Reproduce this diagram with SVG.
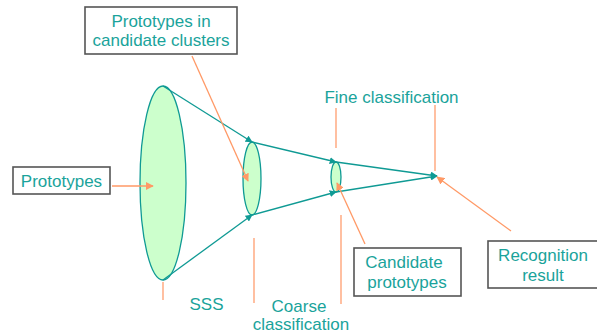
<svg xmlns="http://www.w3.org/2000/svg" width="597" height="336" viewBox="0 0 597 336">
<defs>
<marker id="ta" viewBox="0 0 10 10" refX="9" refY="5" markerWidth="7" markerHeight="7" markerUnits="userSpaceOnUse" orient="auto"><path d="M0,0 L10,5 L0,10 z" fill="#0F9A94"/></marker>
<marker id="oa" viewBox="0 0 10 10" refX="9" refY="5" markerWidth="8" markerHeight="8" markerUnits="userSpaceOnUse" orient="auto"><path d="M0,0 L10,5 L0,10 z" fill="#FF9966"/></marker>
</defs>
<style>
.t{font-family:"Liberation Sans",Arial,sans-serif;font-size:17px;fill:#1AA39B;text-anchor:middle}
.box{fill:#fff;stroke:#555;stroke-width:1.6}
.ell{fill:#CCFFCC;stroke:#0F9A94;stroke-width:1.3}
.c{stroke:#0F9A94;stroke-width:1.3;fill:none;marker-end:url(#ta)}
.o{stroke:#FF9966;stroke-width:1.3;fill:none;marker-end:url(#oa)}
.v{stroke:#FFB08A;stroke-width:1.6;fill:none}
</style>
<rect width="597" height="336" fill="#fff"/>
<g id="sss-ellipse"><ellipse class="ell" cx="163" cy="183" rx="23" ry="97"/></g>
<g id="coarse-ellipse"><ellipse class="ell" cx="252" cy="178.5" rx="9" ry="36.5"/></g>
<g id="fine-ellipse"><ellipse class="ell" cx="336" cy="177" rx="5" ry="15"/></g>
<g id="connectors">
<line class="c" x1="163" y1="86" x2="252" y2="142"/>
<line class="c" x1="163" y1="280" x2="252" y2="215"/>
<line class="c" x1="252" y1="142" x2="336" y2="162"/>
<line class="c" x1="252" y1="215" x2="336" y2="192"/>
<line class="c" x1="336" y1="162" x2="437" y2="176"/>
<line class="c" x1="336" y1="192" x2="437" y2="176"/>
<line class="o" x1="112" y1="186" x2="153" y2="186"/>
<line class="o" x1="192" y1="56" x2="248" y2="181"/>
<line class="o" x1="365" y1="244" x2="337" y2="183"/>
<line class="o" x1="511" y1="231" x2="437" y2="177"/>
<line class="v" x1="163" y1="282" x2="163" y2="300"/>
<line class="v" x1="254" y1="238" x2="254" y2="303"/>
<line class="v" x1="341" y1="215" x2="341" y2="304"/>
<line class="v" x1="336" y1="108" x2="336" y2="148"/>
<line class="v" x1="435" y1="105" x2="435" y2="171"/>
</g>
<g id="clusters-label"><rect class="box" x="85" y="7" width="152" height="47"/><text class="t" x="161" y="27">Prototypes in</text><text class="t" x="161" y="46">candidate clusters</text></g>
<g id="prototypes-label"><rect class="box" x="13" y="167" width="97" height="27"/><text class="t" x="61.5" y="187">Prototypes</text></g>
<g id="fine-label"><text class="t" x="391.5" y="103">Fine classification</text></g>
<g id="sss-label"><text class="t" x="206.5" y="310">SSS</text></g>
<g id="coarse-label"><text class="t" x="299" y="312">Coarse</text><text class="t" x="301" y="330">classification</text></g>
<g id="candidate-label"><rect class="box" x="354" y="248" width="107" height="48"/><text class="t" x="404" y="268">Candidate</text><text class="t" x="407" y="288">prototypes</text></g>
<g id="result-label"><rect class="box" x="488" y="241" width="110" height="47"/><text class="t" x="543" y="261">Recognition</text><text class="t" x="543" y="281">result</text></g>
</svg>
